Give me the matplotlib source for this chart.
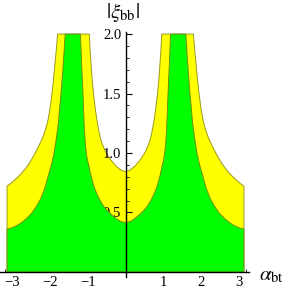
import matplotlib
matplotlib.use("Agg")
import matplotlib.pyplot as plt
from matplotlib.ticker import MultipleLocator, FixedLocator
import numpy as np

plt.rcParams['font.family'] = ['Liberation Serif', 'DejaVu Serif']
plt.rcParams['mathtext.fontset'] = 'stix'

# boundary of the wide (yellow) band, right half
yellow_alpha = [0.0, 0.12, 0.25, 0.37, 0.47, 0.55, 0.62, 0.67, 0.71, 0.76, 0.80, 0.84,
                0.88, 0.915, 0.94, 0.96,
                1.80, 1.835, 1.87, 1.915, 1.96, 2.01, 2.06, 2.12, 2.19, 2.24, 2.30,
                2.37, 2.45, 2.56, 2.67, 2.80, 2.93, 3.04, np.pi]
yellow_xi = [0.843, 0.856, 0.890, 0.935, 0.980, 1.025, 1.080, 1.130, 1.190, 1.280, 1.370, 1.473,
             1.600, 1.754, 1.870, 2.0,
             2.0, 1.870, 1.754, 1.600, 1.473, 1.360, 1.270, 1.200, 1.135, 1.100, 1.060,
             1.015, 0.968, 0.910, 0.862, 0.815, 0.776, 0.745, 0.722]

# boundary of the narrow (green) band, right half
green_alpha = [0.0, 0.12, 0.23, 0.36, 0.50, 0.60, 0.68, 0.75, 0.81, 0.87, 0.92, 0.96,
               1.00, 1.03, 1.055, 1.072, 1.09, 1.108, 1.125, 1.145, 1.165, 1.18, 1.195,
               1.60, 1.625, 1.65, 1.68, 1.71, 1.745, 1.78, 1.81, 1.85, 1.91, 1.97,
               2.03, 2.09, 2.15, 2.25, 2.36, 2.48, 2.62, 2.76, 2.89, 3.02, np.pi]
green_xi = [0.414, 0.424, 0.445, 0.478, 0.521, 0.562, 0.605, 0.650, 0.695, 0.755, 0.815, 0.875,
            0.930, 0.975, 1.045, 1.109, 1.193, 1.330, 1.473, 1.620, 1.754, 1.870, 2.0,
            2.0, 1.870, 1.754, 1.620, 1.500, 1.380, 1.250, 1.180, 1.090, 0.975, 0.895,
            0.830, 0.760, 0.695, 0.615, 0.552, 0.497, 0.451, 0.414, 0.388, 0.370, 0.360]

x_ticks = [-3, -2, -1, 1, 2, 3]
y_ticks = [0.5, 1.0, 1.5, 2.0]


def region(a, v):
    # plot is symmetric in alpha -> -alpha
    a = np.asarray(a)
    v = np.asarray(v)
    xs = np.concatenate([-a[::-1], a[1:], [np.pi, -np.pi]])
    ys = np.concatenate([v[::-1], v[1:], [0, 0]])
    return xs, ys


fig = plt.figure(figsize=(2.85, 2.92), dpi=100)
ax = fig.add_axes([0.0, 0.0524, 0.8737, 0.839])

xs, ys = region(yellow_alpha, yellow_xi)
ax.fill(xs, ys, facecolor='#ffff00', edgecolor='#9a9a20', linewidth=0.7, zorder=1)
xs, ys = region(green_alpha, green_xi)
ax.fill(xs, ys, facecolor='#00ff00', edgecolor='#6f8f10', linewidth=0.7, zorder=2)

ax.set_xlim(-3.329, 3.276)
ax.set_ylim(-0.04, 2.02)

for s in ['top', 'right']:
    ax.spines[s].set_visible(False)
ax.spines['left'].set_position(('data', 0))
ax.spines['bottom'].set_position(('data', 0))
for s in ['left', 'bottom']:
    ax.spines[s].set_linewidth(1.0)
    ax.spines[s].set_zorder(5)

ax.xaxis.set_major_locator(FixedLocator(x_ticks))
ax.yaxis.set_major_locator(FixedLocator(y_ticks))
ax.xaxis.set_minor_locator(MultipleLocator(0.2))
ax.yaxis.set_minor_locator(MultipleLocator(0.1))
ax.set_yticklabels(['0.5', '1.0', '1.5', '2.0'])
ax.tick_params(which='major', direction='in', length=4, width=0.8, labelsize=10.5, pad=3)
ax.tick_params(which='minor', direction='in', length=2, width=0.6)

fig.text(123 / 285, 1 - 13 / 292, r'$|\xi_{\rm bb}|$', fontsize=15, ha='center', va='center')
fig.text(271 / 285, 1 - 276 / 292, r'$\alpha_{\rm bt}$', fontsize=15, ha='center', va='center')

fig.savefig('out.png', dpi=100)
